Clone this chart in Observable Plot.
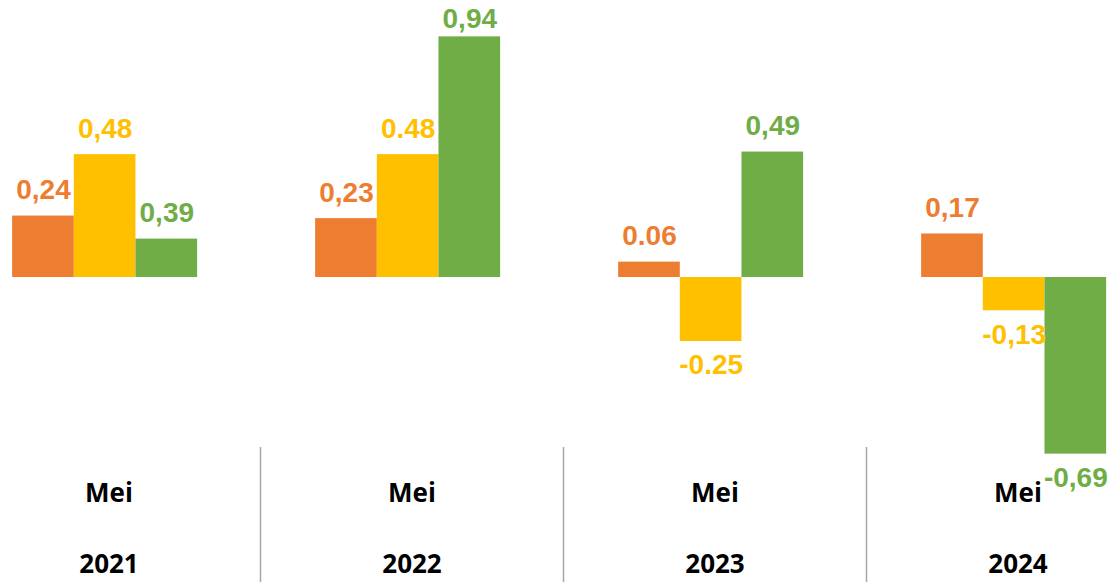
<!DOCTYPE html>
<html>
<head>
<meta charset="utf-8">
<script src="https://cdn.jsdelivr.net/npm/d3@7"></script>
<script src="https://cdn.jsdelivr.net/npm/@observablehq/plot@0.6"></script>
<style>
  html, body { margin: 0; padding: 0; background: #ffffff; }
  #chart { width: 1112px; height: 582px; overflow: hidden; }
</style>
</head>
<body>
<div id="chart"></div>
<script>
// ---- data ----
const years = ["2021", "2022", "2023", "2024"];
const months = ["Mei", "Mei", "Mei", "Mei"];
const seriesNames = ["Seri 1", "Seri 2", "Seri 3"];
const seriesColors = ["#ED7D31", "#FFC000", "#70AD47"];
const orangeValues = [0.24, 0.23, 0.06, 0.17];
const yellowValues = [0.48, 0.48, -0.25, -0.13];
const greenValues = [0.15, 0.94, 0.49, -0.69];   // bar heights as drawn
const orangeLabels = ["0,24", "0,23", "0.06", "0,17"];
const yellowLabels = ["0,48", "0.48", "-0.25", "-0,13"];
const greenLabels = ["0,39", "0,94", "0,49", "-0,69"];

// ---- table built from the arrays ----
const seriesValues = [orangeValues, yellowValues, greenValues];
const seriesLabels = [orangeLabels, yellowLabels, greenLabels];
const rows = [];
years.forEach((year, yi) => {
  seriesNames.forEach((series, si) => {
    rows.push({year, yi, si, series, value: seriesValues[si][yi], label: seriesLabels[si][yi]});
  });
});

// ---- layout ----
const W = 1112, H = 582;
const xDomain = [0, years.length];
const xRange = [-43, 1169];
const yDomain = [-1, 1];
const yRange = [533, 21];
const groupOffset = 0.182, barW = 0.2035;
const x1 = d => d.yi + groupOffset + d.si * barW;
const x2 = d => x1(d) + barW;
const xc = d => x1(d) + barW / 2;
const yPix = d3.scaleLinear(yDomain, yRange);
const labelGap = 26;
const overflow = d => d.value > 0 && yPix(d.value) - labelGap < 19;
const valueFont = {fontFamily: "Liberation Sans, Arial, sans-serif", fontWeight: "bold", fontSize: 28};
const catFont = {fill: "#000000", fontFamily: "Open Sans, sans-serif", fontWeight: "bold", fontSize: 26};

const chart = Plot.plot({
  width: W,
  height: H,
  marginLeft: 0,
  marginRight: 0,
  marginTop: 0,
  marginBottom: 135,
  x: {domain: xDomain, range: xRange},
  y: {domain: yDomain, range: yRange, axis: null},
  color: {domain: seriesNames, range: seriesColors},
  style: {background: "#ffffff", overflow: "hidden"},
  marks: [
    Plot.rectY(rows, {x1, x2, y1: 0, y2: "value", fill: "series", inset: 0}),
    // value labels above positive bars
    Plot.text(rows.filter(d => d.value >= 0 && !overflow(d)), {
      x: xc, y: "value", text: "label", fill: "series", dy: -labelGap, lineAnchor: "middle", ...valueFont
    }),
    // labels pushed inside the top of the plot area
    Plot.text(rows.filter(overflow), {
      x: xc, frameAnchor: "top", dy: 19, text: "label", fill: "series", lineAnchor: "middle", ...valueFont
    }),
    // value labels below negative bars
    Plot.text(rows.filter(d => d.value < 0), {
      x: xc, y: "value", text: "label", fill: "series", dy: 24, lineAnchor: "middle", ...valueFont
    }),
    // group separators
    Plot.axisX(d3.range(1, years.length), {
      anchor: "bottom", tickSize: 135, tickFormat: () => "",
      stroke: "#a6a6a6", strokeWidth: 1.5, label: null
    }),
    // category labels
    Plot.text(months, {
      x: (d, i) => i + 0.5, frameAnchor: "bottom", lineAnchor: "middle", dy: 46, text: d => d, ...catFont
    }),
    Plot.text(years, {
      x: (d, i) => i + 0.5, frameAnchor: "bottom", lineAnchor: "middle", dy: 117, text: d => d, ...catFont
    })
  ]
});
document.getElementById("chart").appendChild(chart);
</script>
</body>
</html>
